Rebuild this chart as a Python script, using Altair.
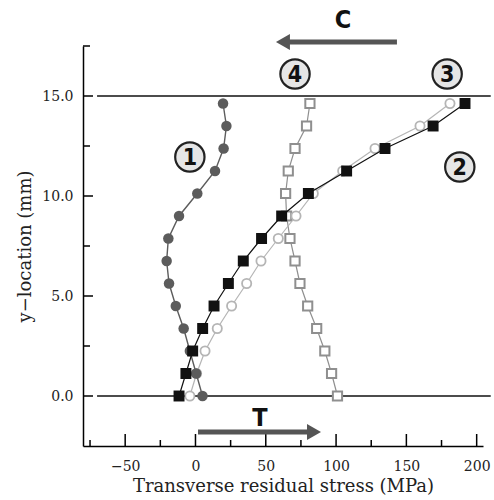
import altair as alt
import pandas as pd

# ---- data ----
y_loc = [0, 1.125, 2.25, 3.375, 4.5, 5.625, 6.75, 7.875, 9.0, 10.125, 11.25, 12.375, 13.5, 14.625]
s1 = [5, 0.5, -4, -8.4, -14, -18.8, -20.5, -19.3, -11.7, 1.3, 13.9, 20, 22, 19.6]
s2 = [-11.7, -6.8, -2, 5.1, 13.2, 23.4, 34, 47, 61.3, 80.3, 107.5, 134.8, 169, 191.7]
s3 = [-4, 0.8, 6.8, 15.5, 25.7, 36.4, 46.6, 58.9, 71.5, 83.8, 104.7, 127.7, 159.7, 181]
s4 = [101, 96.8, 92, 86.2, 79.8, 74.3, 70.8, 67.2, 64.8, 64.1, 66, 70.8, 79, 81.4]

x_major = [-50, 0, 50, 100, 150, 200]
x_minor = [-75, -25, 25, 75, 125, 175]
y_major = [0, 5, 10, 15]
y_minor = [2.5, 7.5, 12.5, 17.5]
ref_lines = [0, 15]

label_txt = ["1", "2", "3", "4"]
label_x = [-4, 188, 179, 70.8]
label_y = [11.95, 11.45, 16.1, 16.1]

arrow_txt = ["C", "T"]
arrow_start = [143.3, 1.8]
arrow_end = [62.2, 84.3]
arrow_y = [17.7, -1.8]
arrow_txt_x = [105, 45.9]
arrow_txt_y = [18.8, -1.1]

xs = alt.Scale(domain=[-80, 204.5], nice=False, zero=False)
ys = alt.Scale(domain=[-2.5, 17.5], nice=False, zero=False)
SERIF = "DejaVu Serif"

def series_df(vals):
    return pd.DataFrame({"x": vals, "y": y_loc})

X = alt.X("x:Q", scale=xs, axis=alt.Axis(
    values=x_major, title="Transverse residual stress (MPa)", ticks=False, tickSize=0,
    grid=False, labelFont=SERIF, labelFontSize=14, labelColor="#222", labelPadding=13,
    domainColor="#000", domainWidth=1.5, titleFont=SERIF, titleFontSize=18,
    titleFontWeight="normal", titleColor="#222", titleY=40, titleBaseline="middle"))
Y = alt.Y("y:Q", scale=ys, axis=alt.Axis(
    values=y_major, format=".1f", title="y\u2212location (mm)", ticks=False, tickSize=0,
    grid=False, labelFont=SERIF, labelFontSize=14, labelColor="#222", labelPadding=10,
    domainColor="#000", domainWidth=1.5, titleFont=SERIF, titleFontSize=18,
    titleFontWeight="normal", titleColor="#222", titleX=-58, titleY=200,
    titleAngle=-90, titleAlign="center", titleBaseline="middle"))

layers = []

# reference lines y=0 and y=15
ref_df = pd.DataFrame({"y": ref_lines, "x": [-70] * 2, "x2": [210] * 2})
layers.append(alt.Chart(ref_df).mark_rule(color="#111", strokeWidth=1.5, clip=False).encode(
    x=X, x2="x2:Q", y=Y))

def line_pts(vals, color, shape, filled, size, lw, sw):
    df = series_df(vals)
    ln = alt.Chart(df).mark_line(color=color, strokeWidth=lw).encode(x=X, y=Y, order="y:Q")
    if filled:
        pt = alt.Chart(df).mark_point(shape=shape, filled=True, color=color, size=size, opacity=1).encode(x=X, y=Y)
    else:
        pt = alt.Chart(df).mark_point(shape=shape, filled=False, stroke=color, fill="white",
                                      strokeWidth=sw, size=size, opacity=1).encode(x=X, y=Y)
    return [ln, pt]

layers += line_pts(s4, "#8f8f8f", "square", False, 85, 1.2, 2)
layers += line_pts(s3, "#b5b5b5", "circle", False, 85, 1.2, 1.8)
layers += line_pts(s1, "#5c5c5c", "circle", True, 110, 1.4, 1)
layers += line_pts(s2, "#111111", "square", True, 120, 1.2, 1)

# inward ticks
xmaj = pd.DataFrame({"x": x_major})
xmin = pd.DataFrame({"x": x_minor})
ymaj = pd.DataFrame({"y": y_major})
ymin = pd.DataFrame({"y": y_minor})
layers.append(alt.Chart(xmaj).mark_rule(color="#000", strokeWidth=1.5).encode(
    x=X, y=alt.value(400), y2=alt.value(388)))
layers.append(alt.Chart(xmin).mark_rule(color="#000", strokeWidth=1.5).encode(
    x=X, y=alt.value(400), y2=alt.value(394)))
layers.append(alt.Chart(ymaj).mark_rule(color="#000", strokeWidth=1.5).encode(
    y=Y, x=alt.value(0), x2=alt.value(10)))
layers.append(alt.Chart(ymin).mark_rule(color="#000", strokeWidth=1.5).encode(
    y=Y, x=alt.value(0), x2=alt.value(7)))

# arrows
arr_df = pd.DataFrame({"t": arrow_txt, "x": arrow_start, "x2": arrow_end, "y": arrow_y,
                       "tx": arrow_txt_x, "ty": arrow_txt_y,
                       "shape": ["triangle-left", "triangle-right"]})
layers.append(alt.Chart(arr_df).mark_rule(color="#555", strokeWidth=5, clip=False).encode(
    x=X, x2="x2:Q", y=Y))
layers.append(alt.Chart(arr_df).mark_point(filled=True, color="#555", size=260, opacity=1).encode(
    x=alt.X("x2:Q", scale=xs), y=Y,
    shape=alt.Shape("shape:N", scale=None, legend=None)))
layers.append(alt.Chart(arr_df).mark_text(font="DejaVu Sans Condensed", fontWeight="bold",
                                          fontSize=25, color="#111").encode(
    x=alt.X("tx:Q", scale=xs), y=alt.Y("ty:Q", scale=ys), text="t:N"))

# circled labels
lab_df = pd.DataFrame({"t": label_txt, "x": label_x, "y": label_y})
layers.append(alt.Chart(lab_df).mark_point(shape="circle", filled=True, fill="#e6e6e6",
                                           stroke="#222", strokeWidth=2.2, size=860, opacity=1).encode(
    x=X, y=Y))
layers.append(alt.Chart(lab_df).mark_text(font="DejaVu Sans Condensed", fontWeight="bold",
                                          fontSize=23, color="#111", baseline="middle", dy=1).encode(
    x=X, y=Y, text="t:N"))

chart = alt.layer(*layers).properties(
    width=400, height=400,
    autosize=alt.AutoSizeParams(type="none"),
    padding={"left": 83, "top": 46, "right": 11, "bottom": 54},
    background="white",
).configure_view(stroke=None)

chart.save("out.html", embed_options={"renderer": "svg", "actions": False})
